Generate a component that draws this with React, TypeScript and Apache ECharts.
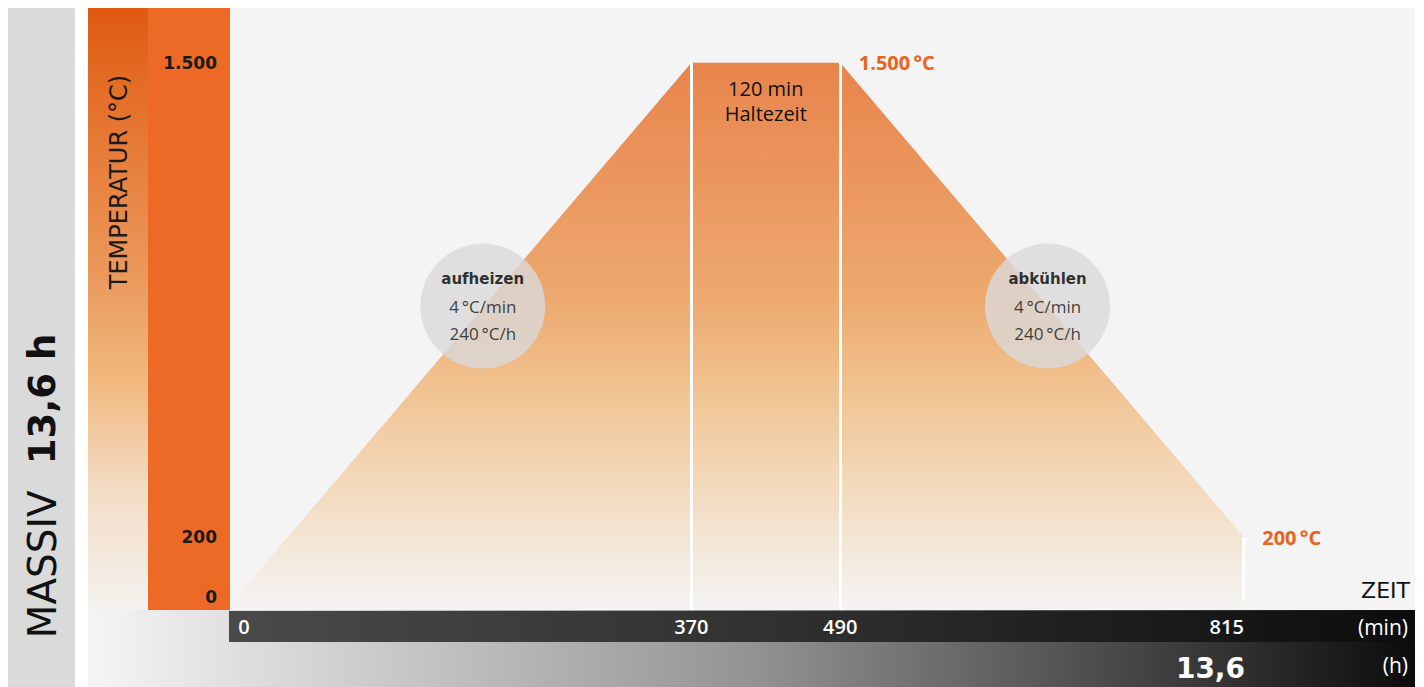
import React, { useEffect, useRef } from "react";
import * as echarts from "echarts";

// Firing curve: time (min) vs. furnace temperature (°C)
const timeMin = [0, 370, 490, 815];
const tempC = [20, 1500, 1500, 200];

// Axis tick values
const xTicks = [0, 370, 490, 815];
const yTicks = [0, 200, 1500];

// Phase annotations
const phaseNames = ["aufheizen", "abkühlen"];
const phaseRateMin = ["4\u2009°C/min", "4\u2009°C/min"];
const phaseRateHour = ["240\u2009°C/h", "240\u2009°C/h"];
const holdMinutes = 120;
const totalHours = "13,6";
const programName = "MASSIV";

const FONT = "'Open Sans', 'Noto Sans', sans-serif";
const WIDE = "'DejaVu Sans', Verdana, sans-serif";
const ORANGE = "#e8641c";

const fmtThousands = (v: number) =>
  String(v).replace(/\B(?=(\d{3})+(?!\d))/g, ".");

export default function App() {
  const ref = useRef<HTMLDivElement>(null);

  useEffect(() => {
    if (!ref.current) return;
    const chart = echarts.init(ref.current, null, { renderer: "svg" });

    const curve = timeMin.map((t, i) => [t, tempC[i]]);
    const holdStart = timeMin[1];
    const holdEnd = timeMin[2];
    const endTime = timeMin[3];

    const xLabelStyle = { color: "#ffffff", fontSize: 20, fontWeight: 600, fontFamily: FONT };
    const yLabelStyle = { color: "#1a1a1a", fontSize: 17, fontWeight: 700, fontFamily: WIDE };
    const orangeLabel = { color: ORANGE, fontSize: 20, fontWeight: 700, fontFamily: FONT };

    const option: any = {
      animation: false,
      textStyle: { fontFamily: FONT },
      grid: { left: 224, right: 1, top: 0, bottom: 77, containLabel: false },
      xAxis: {
        type: "value",
        min: 0,
        max: 953,
        z: 5,
        axisLine: { show: false },
        axisTick: { show: false },
        splitLine: { show: false },
        axisLabel: {
          customValues: xTicks,
          margin: 6,
          ...xLabelStyle,
          formatter: (v: number) => {
            if (v === xTicks[0]) return `{first|${v}}`;
            if (v === xTicks[xTicks.length - 1]) return `{last|${v}}`;
            return String(v);
          },
          rich: {
            first: { padding: [0, 0, 0, 24], ...xLabelStyle },
            last: { padding: [0, 34, 0, 0], ...xLabelStyle },
          },
        },
      },
      yAxis: {
        type: "value",
        min: 0,
        max: 1650,
        z: 5,
        axisLine: { show: false },
        axisTick: { show: false },
        splitLine: { show: false },
        axisLabel: {
          customValues: yTicks,
          margin: 15,
          ...yLabelStyle,
          formatter: (v: number) => (v === 0 ? `{low|0}` : fmtThousands(v)),
          rich: {
            low: { padding: [0, 0, 26, 0], ...yLabelStyle },
          },
        },
      },
      graphic: [
        // left title panel
        { type: "rect", z: 0, shape: { x: 0, y: 0, width: 67, height: 679 }, style: { fill: "#dadada" } },
        // bottom hour band
        {
          type: "rect",
          z: 0,
          shape: { x: 80, y: 602, width: 1327, height: 77 },
          style: {
            fill: new echarts.graphic.LinearGradient(0, 0, 1, 0, [
              { offset: 0, color: "#f5f5f5" },
              { offset: 0.5, color: "#939393" },
              { offset: 1, color: "#0c0c0c" },
            ]),
          },
        },
        // temperature gradient column
        {
          type: "rect",
          z: 0,
          shape: { x: 80, y: 0, width: 60, height: 602 },
          style: {
            fill: new echarts.graphic.LinearGradient(0, 0, 0, 1, [
              { offset: 0, color: "#e05a10" },
              { offset: 0.45, color: "#eb9a5c" },
              { offset: 0.62, color: "#f0b87e" },
              { offset: 0.8, color: "#f3dcc5" },
              { offset: 1, color: "#f4f2f0" },
            ]),
          },
        },
        // orange temperature axis band
        { type: "rect", z: 0, shape: { x: 140, y: 0, width: 82, height: 602 }, style: { fill: "#ec6a26" } },
        // plot background
        { type: "rect", z: 0, shape: { x: 222, y: 0, width: 1185, height: 602 }, style: { fill: "#f4f4f4" } },
        // minute axis band
        {
          type: "rect",
          z: 0,
          shape: { x: 221, y: 603, width: 1186, height: 31 },
          style: {
            fill: new echarts.graphic.LinearGradient(0, 0, 1, 0, [
              { offset: 0, color: "#4a4a4a" },
              { offset: 0.5, color: "#2e2e2e" },
              { offset: 1, color: "#0c0c0c" },
            ]),
          },
        },
        {
          type: "text",
          z: 10,
          x: 34,
          y: 478,
          rotation: Math.PI / 2,
          style: {
            text: `{a|${programName}}{b|${totalHours} h}`,
            align: "center",
            verticalAlign: "middle",
            rich: {
              a: { fontFamily: WIDE, fontSize: 39, fontWeight: 400, fill: "#111", padding: [0, 26, 0, 0] },
              b: { fontFamily: WIDE, fontSize: 37, fontWeight: 700, fill: "#111" },
            },
          },
        },
        {
          type: "text",
          z: 10,
          x: 111,
          y: 174,
          rotation: Math.PI / 2,
          style: {
            text: "TEMPERATUR (°C)",
            align: "center",
            verticalAlign: "middle",
            fontFamily: WIDE,
            fontSize: 24,
            fill: "#1a1a1a",
          },
        },
        {
          type: "text",
          z: 10,
          x: 1402,
          y: 582,
          style: { text: "ZEIT", align: "right", verticalAlign: "middle", fontFamily: WIDE, fontSize: 22, fill: "#111" },
        },
        {
          type: "text",
          z: 10,
          x: 1400,
          y: 619,
          style: { text: "(min)", align: "right", verticalAlign: "middle", fontFamily: FONT, fontSize: 21, fill: "#ffffff" },
        },
        {
          type: "text",
          z: 10,
          x: 1400,
          y: 657,
          style: { text: "(h)", align: "right", verticalAlign: "middle", fontFamily: FONT, fontSize: 21, fill: "#ffffff" },
        },
        {
          type: "text",
          z: 10,
          x: 1237,
          y: 660,
          style: { text: totalHours, align: "right", verticalAlign: "middle", fontFamily: WIDE, fontSize: 28, fontWeight: 700, fill: "#ffffff" },
        },
      ],
      series: [
        {
          type: "line",
          data: curve,
          z: 2,
          showSymbol: false,
          symbol: "none",
          lineStyle: { width: 0, opacity: 0 },
          areaStyle: {
            opacity: 1,
            color: new echarts.graphic.LinearGradient(0, 0, 0, 1, [
              { offset: 0, color: "#e8844c" },
              { offset: 0.43, color: "#eda96f" },
              { offset: 0.62, color: "#f1c696" },
              { offset: 0.8, color: "#f3ddc3" },
              { offset: 1, color: "#f4f4f4" },
            ]),
          },
          markLine: {
            silent: true,
            symbol: ["none", "none"],
            label: { show: false },
            lineStyle: { color: "#ffffff", width: 3, type: "solid" },
            data: [
              [{ coord: [holdStart, 0] }, { coord: [holdStart, tempC[1]] }],
              [{ coord: [holdEnd, 0] }, { coord: [holdEnd, tempC[2]] }],
              [{ coord: [endTime, 25] }, { coord: [endTime, tempC[3]] }],
            ],
          },
          markPoint: {
            silent: true,
            symbol: "circle",
            symbolSize: 1,
            itemStyle: { color: "rgba(0,0,0,0)" },
            data: [
              {
                coord: [holdEnd, tempC[2]],
                label: {
                  show: true,
                  position: "right",
                  distance: 18,
                  formatter: `${fmtThousands(tempC[2])}\u2009°C`,
                  ...orangeLabel,
                },
              },
              {
                coord: [endTime, tempC[3]],
                label: {
                  show: true,
                  position: "right",
                  distance: 18,
                  formatter: `${fmtThousands(tempC[3])}\u2009°C`,
                  ...orangeLabel,
                },
              },
              {
                coord: [(holdStart + holdEnd) / 2, 1395],
                label: {
                  show: true,
                  position: "inside",
                  formatter: `${holdMinutes} min\nHaltezeit`,
                  color: "#111",
                  fontSize: 20,
                  lineHeight: 25,
                  fontFamily: FONT,
                },
              },
            ],
          },
        },
        {
          type: "scatter",
          z: 3,
          silent: true,
          symbol: "circle",
          symbolSize: 125,
          itemStyle: { color: "#d9d9d9" },
          data: [
            { name: phaseNames[0], value: [202, 833] },
            { name: phaseNames[1], value: [657, 833] },
          ],
          label: {
            show: true,
            position: "inside",
            formatter: (p: any) =>
              `{t|${p.name}}\n{r|${phaseRateMin[p.dataIndex]}}\n{r|${phaseRateHour[p.dataIndex]}}`,
            rich: {
              t: { fontFamily: WIDE, fontSize: 15, fontWeight: 700, color: "#000", lineHeight: 27 },
              r: { fontFamily: FONT, fontSize: 17, color: "#111", lineHeight: 27 },
            },
          },
        },
      ],
    };

    chart.setOption(option);
    return () => chart.dispose();
  }, []);

  return <div ref={ref} style={{ width: 1408, height: 679 }} />;
}
